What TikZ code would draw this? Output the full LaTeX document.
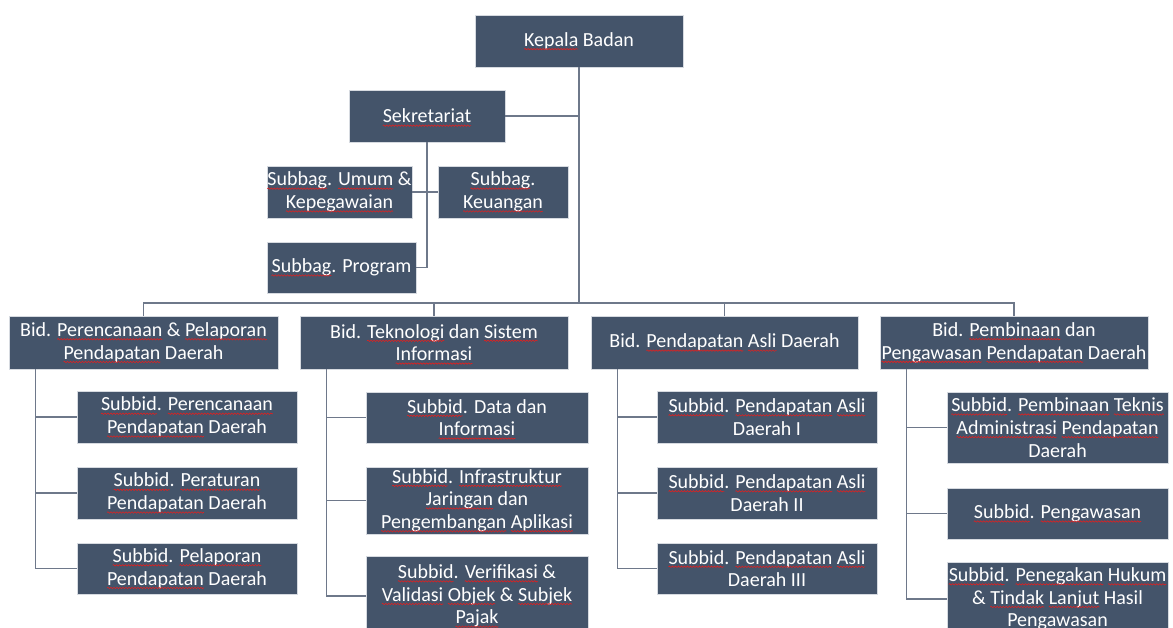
\documentclass[tikz,border=0pt]{standalone}
\usepackage{fontspec}
\setmainfont{Carlito}
\usetikzlibrary{decorations.pathmorphing}
\definecolor{boxfill}{HTML}{44546A}
\definecolor{boxline}{HTML}{D6DAE0}
\definecolor{linkline}{HTML}{6E788A}
\definecolor{wavered}{HTML}{E02020}
\newdimen\sqwd
\newcommand{\sq}[1]{\setbox0\hbox{#1}\sqwd=\wd0\copy0\tikz[overlay,baseline=0pt]\draw[wavered,line width=0.6pt,decorate,decoration={snake,amplitude=0.7pt,segment length=3pt}] (-\the\sqwd,-2.8pt) -- (0pt,-2.8pt);}

\begin{document}
\begin{tikzpicture}[x=1pt,y=-1pt,
    unit/.style={draw=boxline,line width=0.8pt,fill=boxfill,text=white,align=center,
                 inner sep=0pt,font=\fontsize{20}{22.7}\selectfont},
    link/.style={draw=linkline,line width=1.6pt}]
         \useasboundingbox (0,0) rectangle (1173,628);
         % top and secretariat
         \node[unit,minimum width=208,minimum height=52] (kb) at (579,41) {\sq{Kepala} Badan};
         \node[unit,minimum width=156,minimum height=52] (sek) at (427,116) {\sq{Sekretariat}};
         \node[unit,minimum width=145,minimum height=52] (umum) at (339.5,192) {\sq{Subbag}. \sq{Umum} \&\\\sq{Kepegawaian}};
         \node[unit,minimum width=130,minimum height=52] (keu) at (503,192) {\sq{Subbag}.\\\sq{Keuangan}};
         \node[unit,minimum width=149,minimum height=51] (prog) at (341.5,267.5) {\sq{Subbag}. Program};
         % bidang
         \node[unit,minimum width=269,minimum height=53] (b1) at (143.5,342.5) {Bid. \sq{Perencanaan} \& \sq{Pelaporan}\\\sq{Pendapatan} Daerah};
         \node[unit,minimum width=268,minimum height=53] (b2) at (434,342.5) {Bid. \sq{Teknologi} dan \sq{Sistem}\\\sq{Informasi}};
         \node[unit,minimum width=267,minimum height=53] (b3) at (724.5,342.5) {Bid. \sq{Pendapatan} \sq{Asli} Daerah};
         \node[unit,minimum width=268,minimum height=53] (b4) at (1014,342.5) {Bid. \sq{Pembinaan} dan\\\sq{Pengawasan} \sq{Pendapatan} Daerah};
         % subbidang
         \node[unit,minimum width=220,minimum height=52] (s11) at (187,417) {\sq{Subbid}. \sq{Perencanaan}\\\sq{Pendapatan} Daerah};
         \node[unit,minimum width=220,minimum height=52] (s12) at (187,493) {\sq{Subbid}. \sq{Peraturan}\\\sq{Pendapatan} Daerah};
         \node[unit,minimum width=220,minimum height=51] (s13) at (187,568.5) {\sq{Subbid}. \sq{Pelaporan}\\\sq{Pendapatan} Daerah};
         \node[unit,minimum width=222,minimum height=51] (s21) at (477,417.5) {\sq{Subbid}. Data dan\\\sq{Informasi}};
         \node[unit,minimum width=222,minimum height=67] (s22) at (477,500.5) {\sq{Subbid}. \sq{Infrastruktur}\\\sq{Jaringan} dan\\\sq{Pengembangan} \sq{Aplikasi}};
         \node[unit,minimum width=222,minimum height=80] (s23) at (477,596) {\sq{Subbid}. \sq{Verifikasi} \&\\\sq{Validasi} \sq{Objek} \& \sq{Subjek}\\\sq{Pajak}};
         \node[unit,minimum width=220,minimum height=52] (s31) at (767,417) {\sq{Subbid}. \sq{Pendapatan} \sq{Asli}\\Daerah I};
         \node[unit,minimum width=220,minimum height=52] (s32) at (767,493) {\sq{Subbid}. \sq{Pendapatan} \sq{Asli}\\Daerah II};
         \node[unit,minimum width=220,minimum height=51] (s33) at (767,568.5) {\sq{Subbid}. \sq{Pendapatan} \sq{Asli}\\Daerah III};
         \node[unit,minimum width=221,minimum height=71] (s41) at (1057.5,427.5) {\sq{Subbid}. \sq{Pembinaan} \sq{Teknis}\\\sq{Administrasi} \sq{Pendapatan}\\Daerah};
         \node[unit,minimum width=221,minimum height=51] (s42) at (1057.5,513.5) {\sq{Subbid}. \sq{Pengawasan}};
         \node[unit,minimum width=221,minimum height=74] (s43) at (1057.5,599) {\sq{Subbid}. \sq{Penegakan} \sq{Hukum}\\\& \sq{Tindak} \sq{Lanjut} Hasil\\\sq{Pengawasan}};
         % connectors
         \coordinate (bus) at (579,303);
         \draw[link] (kb.south) -- (kb.south |- bus);
         \draw[link] (sek.east) -- (sek.east -| kb.south);
         \draw[link] (sek.south) |- (prog.east);
         \draw[link] (umum.east) -- (keu.west);
         \draw[link] (b1.north) |- (b4.north |- bus) -- (b4.north);
         \draw[link] (b2.north) -- (b2.north |- bus);
         \draw[link] (b3.north) -- (b3.north |- bus);
         \foreach \c in {1,...,4}{
           \coordinate (t\c) at ([xshift=27pt]b\c.south west);
           \draw[link] (t\c) |- (s\c3.west);
           \draw[link] (s\c1.west) -- (s\c1.west -| t\c);
           \draw[link] (s\c2.west) -- (s\c2.west -| t\c);
         }
\end{tikzpicture}
\end{document}
